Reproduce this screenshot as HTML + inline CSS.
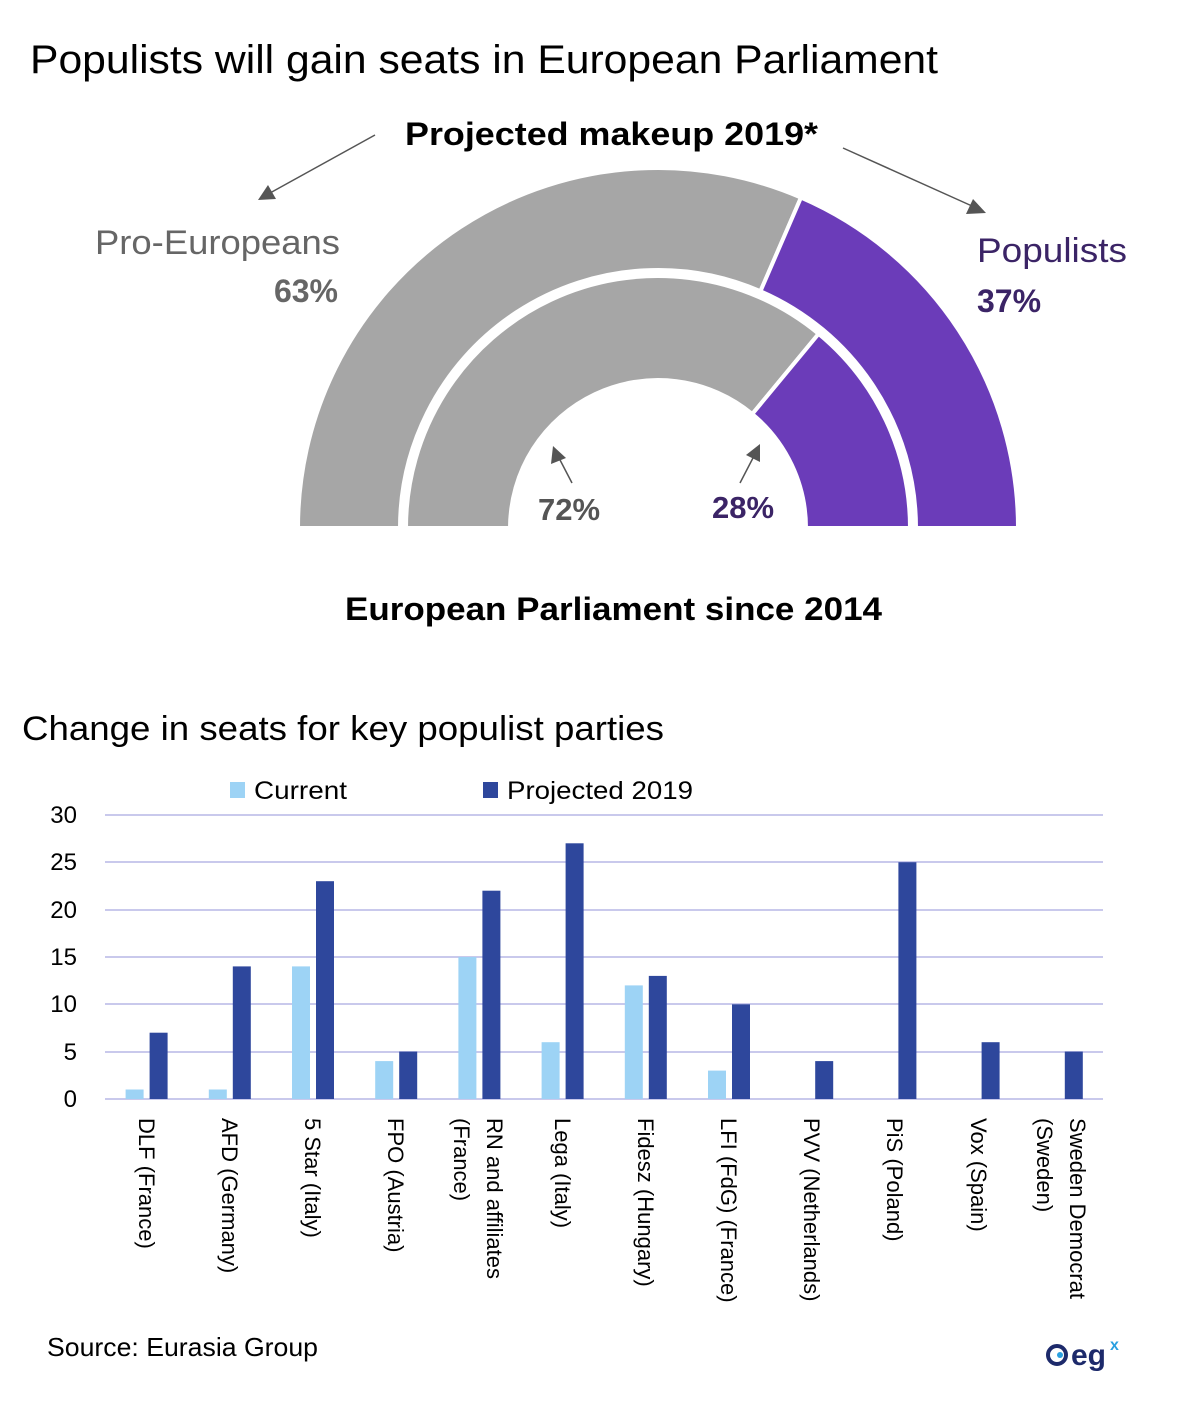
<!DOCTYPE html>
<html><head><meta charset="utf-8"><style>
html,body{margin:0;padding:0;background:#fff;}
svg{display:block;font-family:"Liberation Sans",sans-serif;}
</style></head><body>
<svg width="1180" height="1404" viewBox="0 0 1180 1404" xmlns="http://www.w3.org/2000/svg">
<rect width="1180" height="1404" fill="#fff"/>
<text x="30" y="73" font-size="40" fill="#000" textLength="908" lengthAdjust="spacingAndGlyphs">Populists will gain seats in European Parliament</text>
<text x="405" y="145" font-size="32" font-weight="bold" fill="#000" textLength="413" lengthAdjust="spacingAndGlyphs">Projected makeup 2019*</text>
<!-- donut -->
<g stroke="#fff" stroke-width="4" stroke-linejoin="miter">
<path d="M298,528 A360,360 0 0 1 800.96,197.6 L760.45,291.2 A258,258 0 0 0 400,528 Z" fill="#a6a6a6"/>
<path d="M800.96,197.6 A360,360 0 0 1 1018,528 L916,528 A258,258 0 0 0 760.45,291.2 Z" fill="#6b3cb9"/>
<path d="M406,528 A252,252 0 0 1 818.6,333.8 L752.3,414.0 A148,148 0 0 0 510,528 Z" fill="#a6a6a6"/>
<path d="M818.6,333.8 A252,252 0 0 1 910,528 L806,528 A148,148 0 0 0 752.3,414 Z" fill="#6b3cb9"/>
</g>
<rect x="290" y="529" width="740" height="10" fill="#fff"/>
<!-- arrows -->
<g stroke="#555" stroke-width="1.5" fill="#555">
<line x1="375" y1="135" x2="270" y2="193"/>
<polygon points="258,200 268,185 276,199" stroke="none"/>
<line x1="843" y1="148" x2="972" y2="206"/>
<polygon points="986,213 966,214 973,199" stroke="none"/>
<line x1="572" y1="483" x2="559" y2="458"/>
<polygon points="553,446 551,464 566,458" stroke="none"/>
<line x1="740" y1="483" x2="754" y2="456"/>
<polygon points="760,444 746,455 760,462" stroke="none"/>
</g>
<text x="95" y="254" font-size="34" fill="#666" textLength="245" lengthAdjust="spacingAndGlyphs">Pro-Europeans</text>
<text x="338" y="302" font-size="32" font-weight="bold" fill="#666" text-anchor="end">63%</text>
<text x="977" y="262" font-size="34" fill="#3b2466" textLength="150" lengthAdjust="spacingAndGlyphs">Populists</text>
<text x="977" y="312" font-size="32" font-weight="bold" fill="#3b2466">37%</text>
<text x="538" y="520" font-size="31" font-weight="bold" fill="#555">72%</text>
<text x="712" y="518" font-size="31" font-weight="bold" fill="#3b2466">28%</text>
<text x="345" y="620" font-size="32" font-weight="bold" fill="#000" textLength="537" lengthAdjust="spacingAndGlyphs">European Parliament since 2014</text>
<!-- bar chart -->
<text x="22" y="740" font-size="34" fill="#000" textLength="642" lengthAdjust="spacingAndGlyphs">Change in seats for key populist parties</text>
<rect x="230" y="782" width="15" height="16" fill="#9dd3f5"/>
<text x="254" y="799" font-size="25" fill="#000" textLength="93" lengthAdjust="spacingAndGlyphs">Current</text>
<rect x="483" y="782" width="15" height="16" fill="#2e479c"/>
<text x="507" y="799" font-size="25" fill="#000" textLength="186" lengthAdjust="spacingAndGlyphs">Projected 2019</text>
<g stroke="#c9c9ec" stroke-width="2">
<line x1="105" y1="815" x2="1103" y2="815"/>
<line x1="105" y1="862" x2="1103" y2="862"/>
<line x1="105" y1="910" x2="1103" y2="910"/>
<line x1="105" y1="957" x2="1103" y2="957"/>
<line x1="105" y1="1004" x2="1103" y2="1004"/>
<line x1="105" y1="1052" x2="1103" y2="1052"/>
<line x1="105" y1="1099" x2="1103" y2="1099"/>
</g>
<g font-size="24" text-anchor="end" fill="#000">
<text x="77" y="823">30</text><text x="77" y="870">25</text><text x="77" y="918">20</text>
<text x="77" y="965">15</text><text x="77" y="1012">10</text><text x="77" y="1060">5</text><text x="77" y="1107">0</text>
</g>
<g fill="#9dd3f5">
<rect x="125.6" y="1089.5" width="18" height="9.5"/>
<rect x="208.8" y="1089.5" width="18" height="9.5"/>
<rect x="292" y="966.4" width="18" height="132.6"/>
<rect x="375.2" y="1061.1" width="18" height="37.9"/>
<rect x="458.4" y="957" width="18" height="142"/>
<rect x="541.6" y="1042.2" width="18" height="56.8"/>
<rect x="624.8" y="985.4" width="18" height="113.6"/>
<rect x="708" y="1070.6" width="18" height="28.4"/>
</g>
<g fill="#2e479c">
<rect x="149.6" y="1032.7" width="18" height="66.3"/>
<rect x="232.8" y="966.4" width="18" height="132.6"/>
<rect x="316" y="881.2" width="18" height="217.8"/>
<rect x="399.2" y="1051.6" width="18" height="47.4"/>
<rect x="482.4" y="890.7" width="18" height="208.3"/>
<rect x="565.6" y="843.3" width="18" height="255.7"/>
<rect x="648.8" y="975.9" width="18" height="123.1"/>
<rect x="732" y="1004.3" width="18" height="94.7"/>
<rect x="815.2" y="1061.1" width="18" height="37.9"/>
<rect x="898.4" y="862.2" width="18" height="236.8"/>
<rect x="981.6" y="1042.2" width="18" height="56.8"/>
<rect x="1064.8" y="1051.6" width="18" height="47.4"/>
</g>
<g font-size="22" fill="#000">
<text transform="translate(139,1118) rotate(90)">DLF (France)</text>
<text transform="translate(222,1118) rotate(90)">AFD (Germany)</text>
<text transform="translate(305,1118) rotate(90)">5 Star (Italy)</text>
<text transform="translate(388,1118) rotate(90)">FPO (Austria)</text>
<text transform="translate(487,1118) rotate(90)"><tspan x="0" y="0">RN and affiliates</tspan><tspan x="0" dy="33">(France)</tspan></text>
<text transform="translate(555,1118) rotate(90)">Lega (Italy)</text>
<text transform="translate(638,1118) rotate(90)">Fidesz (Hungary)</text>
<text transform="translate(721,1118) rotate(90)">LFI (FdG) (France)</text>
<text transform="translate(804,1118) rotate(90)">PVV (Netherlands)</text>
<text transform="translate(887,1118) rotate(90)">PiS (Poland)</text>
<text transform="translate(971,1118) rotate(90)">Vox (Spain)</text>
<text transform="translate(1070,1118) rotate(90)"><tspan x="0" y="0">Sweden Democrat</tspan><tspan x="0" dy="33">(Sweden)</tspan></text>
</g>
<text x="47" y="1356" font-size="26" fill="#000" textLength="271" lengthAdjust="spacingAndGlyphs">Source: Eurasia Group</text>
<!-- logo -->
<g>
<circle cx="1057" cy="1355" r="9" fill="none" stroke="#1d2a6b" stroke-width="4"/>
<circle cx="1060" cy="1355" r="3" fill="#2aa0e0"/>
<text x="1071" y="1365" font-size="30" font-weight="bold" fill="#1d2a6b">eg</text>
<text x="1110" y="1350" font-size="16" font-weight="bold" fill="#2aa0e0">x</text>
</g>
</svg>
</body></html>
